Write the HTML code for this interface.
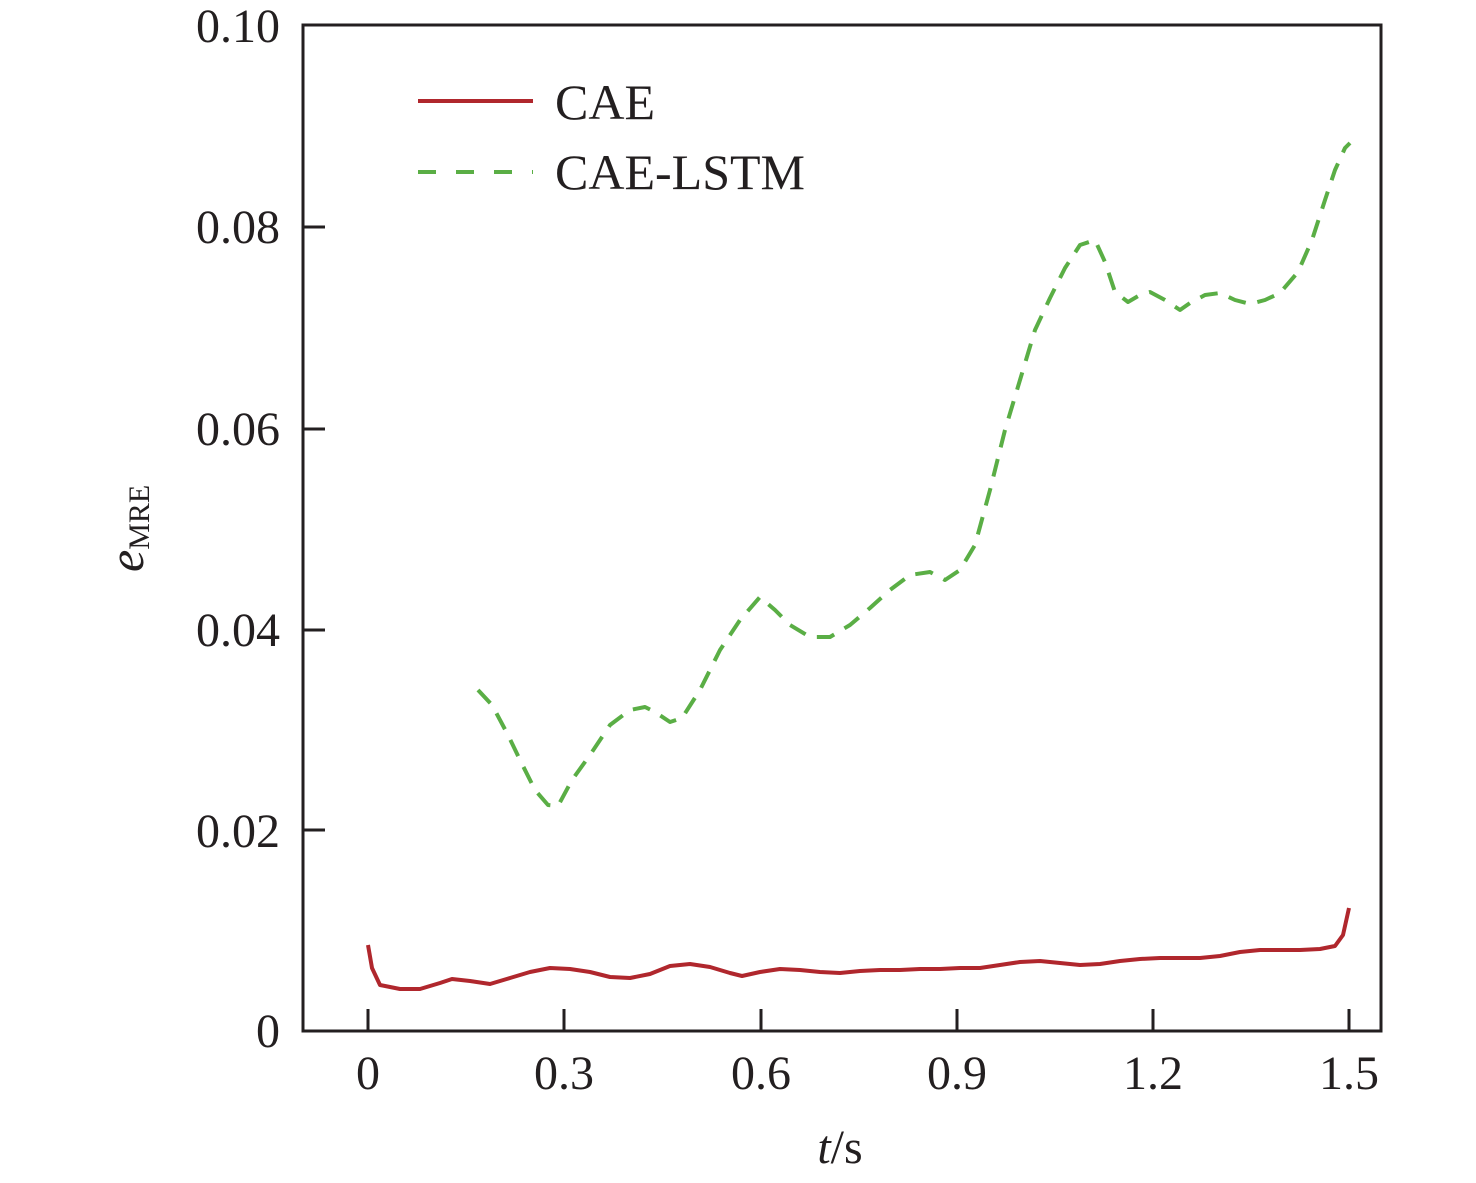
<!DOCTYPE html>
<html><head><style>html,body{margin:0;padding:0;background:#fff}</style></head><body>
<svg width="1476" height="1178" xmlns="http://www.w3.org/2000/svg" font-family="Liberation Serif, serif" fill="#231f20">
<rect width="1476" height="1178" fill="#fff"/>
<g stroke="#231f20" stroke-width="3" fill="none">
<rect x="303" y="25" width="1078" height="1006"/>
<path d="M368 1031v-22M564 1031v-22M761 1031v-22M957 1031v-22M1153 1031v-22M1349 1031v-22"/>
<path d="M303 830h22M303 630h22M303 429h22M303 227h22"/>
</g>
<g font-size="48" text-anchor="end">
<text x="280" y="1047">0</text>
<text x="280" y="847">0.02</text>
<text x="280" y="646">0.04</text>
<text x="280" y="445">0.06</text>
<text x="280" y="243">0.08</text>
<text x="280" y="42">0.10</text>
</g>
<g font-size="48" text-anchor="middle">
<text x="368" y="1089">0</text>
<text x="564" y="1089">0.3</text>
<text x="761" y="1089">0.6</text>
<text x="957" y="1089">0.9</text>
<text x="1153" y="1089">1.2</text>
<text x="1349" y="1089">1.5</text>
<text x="840" y="1163"><tspan font-style="italic">t</tspan>/s</text>
</g>
<text transform="translate(143,572) rotate(-90)" font-size="50"><tspan font-style="italic">e</tspan><tspan font-size="30" dy="6">MRE</tspan></text>
<line x1="418" y1="101" x2="533" y2="101" stroke="#b0272d" stroke-width="4"/>
<line x1="418" y1="172" x2="533" y2="172" stroke="#5aae45" stroke-width="4" stroke-dasharray="18 20"/>
<text x="555" y="119" font-size="50">CAE</text>
<text x="555" y="189" font-size="50">CAE-LSTM</text>
<polyline fill="none" stroke="#b0272d" stroke-width="4" stroke-linejoin="round" points="368,945 372,968 380,985 400,989 420,989 440,983 452,979 470,981 490,984 510,978 530,972 550,968 570,969 590,972 610,977 630,978 650,974 670,966 690,964 710,967 730,973 742,976 760,972 780,969 800,970 820,972 840,973 860,971 880,970 900,970 920,969 940,969 960,968 980,968 1000,965 1020,962 1040,961 1060,963 1080,965 1100,964 1120,961 1140,959 1160,958 1180,958 1200,958 1220,956 1240,952 1260,950 1280,950 1300,950 1320,949 1335,946 1343,935 1349,908"/>
<polyline fill="none" stroke="#5aae45" stroke-width="4" stroke-dasharray="18 12" stroke-linejoin="round" points="478,690 492,705 508,735 520,760 535,790 548,805 558,806 572,780 590,755 610,725 630,710 645,707 655,712 670,722 682,718 700,690 720,650 740,620 760,597 775,610 790,625 810,637 830,637 850,625 870,608 890,590 910,575 930,572 945,580 960,570 975,545 990,490 1005,430 1020,380 1035,330 1050,298 1065,268 1080,245 1095,240 1105,262 1115,292 1128,302 1140,295 1150,292 1165,300 1180,310 1190,303 1205,295 1220,293 1235,300 1250,304 1265,300 1280,293 1298,272 1312,240 1325,200 1335,170 1345,148 1350,143"/>
</svg>
</body></html>
